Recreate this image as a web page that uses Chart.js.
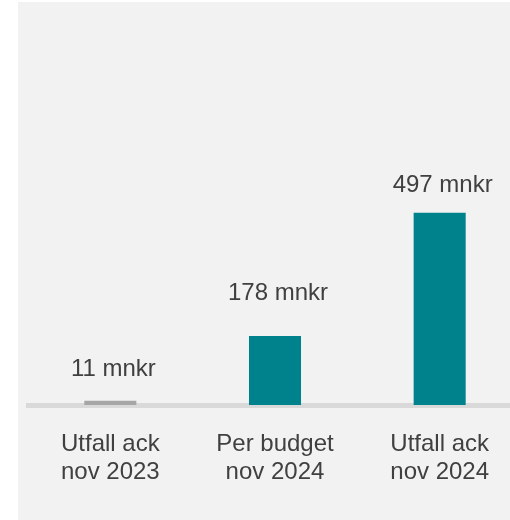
<!DOCTYPE html>
<html>
<head>
<meta charset="utf-8">
<script src="https://cdn.jsdelivr.net/npm/chart.js@4.4.1/dist/chart.umd.min.js"></script>
<style>
  html, body { margin: 0; padding: 0; width: 510px; height: 520px; overflow: hidden; background: #ffffff; }
  #panel { position: absolute; left: 18px; top: 2px; width: 492px; height: 518px; background: #f2f2f2; }
  #wrap { position: absolute; left: 0; top: 0; width: 522px; height: 520px; }
</style>
</head>
<body>
<div id="panel"></div>
<div id="wrap"><canvas id="resultBar"></canvas></div>
<script>
// Periods shown on the x axis (two lines each)
const categories = [
  ["Utfall ack", "nov 2023"],
  ["Per budget", "nov 2024"],
  ["Utfall ack", "nov 2024"]
];
// Result in mnkr
const values = [11, 178, 497];
const valueUnit = "mnkr";

const FONT = '"Liberation Sans", Arial, sans-serif';
const TEXT_COLOR = '#404040';

// Value labels above each bar
const barValueLabels = {
  id: 'barValueLabels',
  afterDatasetsDraw(chart, args, opts) {
    const ctx = chart.ctx;
    const meta = chart.getDatasetMeta(0);
    ctx.save();
    ctx.font = `24px ${FONT}`;
    ctx.fillStyle = TEXT_COLOR;
    ctx.textAlign = 'center';
    ctx.textBaseline = 'alphabetic';
    meta.data.forEach((bar, i) => {
      ctx.fillText(`${values[i]} ${valueUnit}`, bar.x + opts.dx, bar.y - opts.gaps[i]);
    });
    ctx.restore();
  }
};

new Chart(document.getElementById('resultBar').getContext('2d'), {
  type: 'bar',
  data: {
    labels: categories,
    datasets: [{
      data: values,
      backgroundColor: ['#a6a6a6', '#00828c', '#00828c'],
      borderWidth: 0,
      categoryPercentage: 1,
      barPercentage: 0.316
    }]
  },
  options: {
    responsive: true,
    maintainAspectRatio: false,
    animation: false,
    layout: { padding: { left: 28, right: 0, top: 18, bottom: 9 } },
    plugins: {
      legend: { display: false },
      tooltip: { enabled: false },
      barValueLabels: { gaps: [25, 36, 21], dx: 3 }
    },
    scales: {
      x: {
        z: 1,
        grid: { display: false, drawTicks: false },
        border: { color: '#d9d9d9', width: 5 },
        ticks: {
          color: TEXT_COLOR,
          font: { family: FONT, size: 24, lineHeight: 28 / 24 },
          padding: 25,
          maxRotation: 0,
          autoSkip: false
        }
      },
      y: { display: false, min: 0, max: 1000 }
    }
  },
  plugins: [barValueLabels]
});
</script>
</body>
</html>
